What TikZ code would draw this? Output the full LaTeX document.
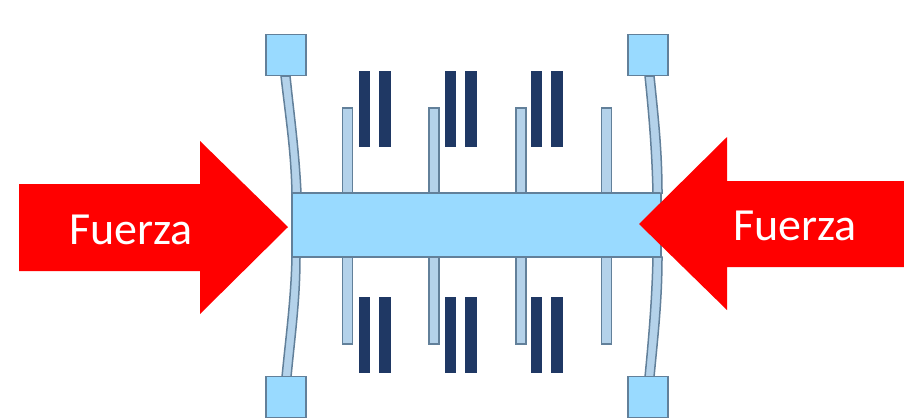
\documentclass[tikz,border=0pt]{standalone}
\usepackage{fontspec}
\setmainfont{Carlito}

\definecolor{bodyblue}{HTML}{99DAFF}
\definecolor{beamblue}{HTML}{B4D2EA}
\definecolor{edgegrey}{HTML}{62809A}
\definecolor{barnavy}{HTML}{1F3864}

\begin{document}
\begin{tikzpicture}[
  x=1pt, y=-1pt,
  pad/.style={draw=edgegrey, fill=bodyblue, line width=1.8pt, minimum width=40pt, minimum height=41pt, inner sep=0pt},
  beam/.style={draw=edgegrey, fill=beamblue, line width=1.5pt},
  finger/.style={draw=edgegrey, fill=beamblue, line width=1.5pt},
  bar/.style={fill=barnavy},
  push/.style={fill=red},
  label/.style={text=white, font=\fontsize{46}{50}\selectfont, inner sep=0pt}
]
\useasboundingbox (0,0) rectangle (904,418);

% flexible beams
\draw[beam] (281,76) .. controls (286,120) and (291,150) .. (292,193) -- (301,193)
  .. controls (299,150) and (294,115) .. (290,76) -- cycle;
\draw[beam] (654,76) .. controls (658,115) and (662,150) .. (662,193) -- (653,193)
  .. controls (652,150) and (649,115) .. (645,76) -- cycle;
\draw[beam] (292,257) .. controls (291,300) and (286,335) .. (282,377) -- (291,377)
  .. controls (295,335) and (300,300) .. (300,257) -- cycle;
\draw[beam] (653,257) .. controls (652,300) and (649,335) .. (645,377) -- (654,377)
  .. controls (658,335) and (662,300) .. (662,257) -- cycle;

% pads
\node[pad] (padNW) at (286,55) {};
\node[pad] (padNE) at (648,55) {};
\node[pad] (padSW) at (286,397) {};
\node[pad] (padSE) at (648,397) {};

% moving fingers
\foreach \x in {347.5,434,521,606.5} {
  \draw[finger] (\x-5,193) -- (\x-5,108) -- (\x+5,108) -- (\x+5,193);
  \draw[finger] (\x-5,257) -- (\x-5,344) -- (\x+5,344) -- (\x+5,257);
}

% central mass
\fill[bodyblue] (292,193) rectangle (660,257);
\draw[edgegrey, line width=1.5pt] (292,193) -- (660,193);
\draw[edgegrey, line width=1.5pt] (292,257) -- (660,257);
\draw[edgegrey, line width=1.5pt] (292,193) -- (292,257);
\draw[edgegrey, line width=1.5pt] (661,193) -- (661,257);

% fixed electrodes
\foreach \x in {359,445,531} {
  \fill[bar] (\x,71) rectangle +(11,76);
  \fill[bar] (\x+20,71) rectangle +(12,76);
  \fill[bar] (\x,297) rectangle +(11,76);
  \fill[bar] (\x+20,297) rectangle +(12,76);
}

% forces
\fill[push] (19,184) -- (200,184) -- (200,141) -- (288,227) -- (200,314) -- (200,271) -- (19,271) -- cycle;
\fill[push] (904,181) -- (727,181) -- (727,137) -- (639,224) -- (727,310) -- (727,267) -- (904,267) -- cycle;
\node[label] (forceL) at (131,230) {Fuerza};
\node[label] (forceR) at (795,226) {Fuerza};

\end{tikzpicture}
\end{document}
